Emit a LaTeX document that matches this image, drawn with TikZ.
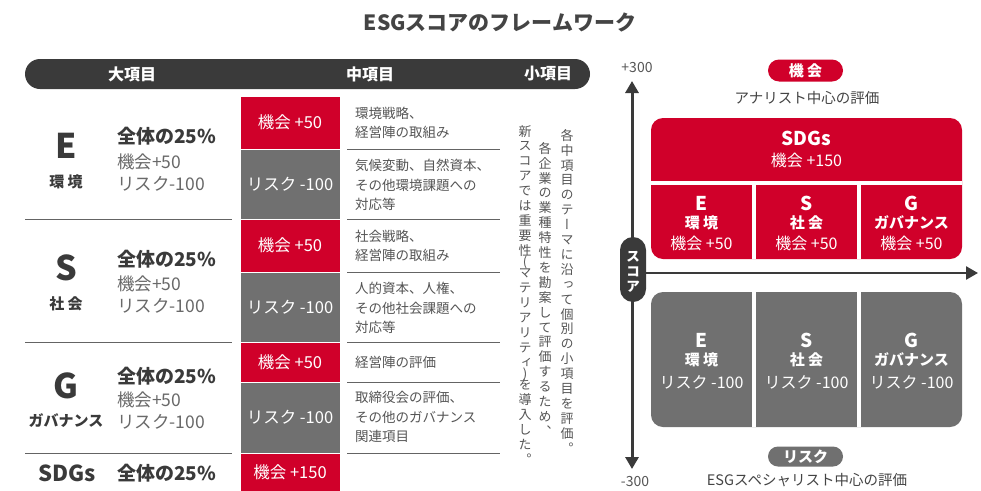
\documentclass[tikz,border=0pt]{standalone}
\usepackage{fontspec}
\usepackage{graphicx}
\setmainfont{Noto Sans CJK JP}
\newfontfamily\vertfont[RawFeature=+vert]{Noto Sans CJK JP}
\usetikzlibrary{arrows.meta}
\definecolor{esgred}{RGB}{208,0,42}
\definecolor{esggray}{RGB}{112,112,112}
\definecolor{esgdark}{RGB}{58,58,58}
\definecolor{txtdark}{RGB}{68,68,68}
\definecolor{txtgray}{RGB}{85,85,85}
\definecolor{txtlight}{RGB}{105,105,105}
\definecolor{rulegray}{RGB}{100,100,100}
\tikzset{
  title/.style={font=\bfseries\fontsize{21}{25}\selectfont, text=txtdark, inner sep=0},
  hdr/.style={font=\bfseries\fontsize{16}{19}\selectfont, text=white, inner sep=0},
  bigletter/.style={font=\bfseries\fontsize{34}{40}\selectfont, text=esgdark, inner sep=0},
  sdgletter/.style={font=\bfseries\fontsize{22}{26}\selectfont, text=esgdark, inner sep=0},
  catname/.style={font=\bfseries\fontsize{15}{18}\selectfont, text=esgdark, inner sep=0},
  share/.style={font=\bfseries\fontsize{19}{22}\selectfont, text=esgdark, anchor=west, inner sep=0},
  subval/.style={font=\fontsize{17.5}{20}\selectfont, text=txtlight, anchor=west, inner sep=0},
  cellbox/.style={draw=white, line width=1pt, text=white, minimum width=100pt, inner sep=0,
    font=\fontsize{16.5}{19}\selectfont},
  redcell/.style={cellbox, fill=esgred},
  graycell/.style={cellbox, fill=esggray},
  midtxt/.style={font=\fontsize{13.5}{19.5}\selectfont, text=txtgray, anchor=west, align=left, inner sep=0},
  rowrule/.style={draw=rulegray, line width=0.8pt},
  vtext/.style={font=\vertfont\fontsize{13}{14.9}\selectfont, text=txtgray, align=center, inner sep=0, anchor=north},
  chartbig/.style={font=\bfseries\fontsize{19}{22}\selectfont, text=white, inner sep=0},
  chartname/.style={font=\bfseries\fontsize{15}{18}\selectfont, text=white, inner sep=0},
  chartval/.style={font=\fontsize{16}{19}\selectfont, text=white, inner sep=0},
  pill/.style={rounded corners=11pt, minimum width=75pt, minimum height=22pt, text=white,
    font=\bfseries\fontsize{15}{18}\selectfont, inner sep=0},
  axisline/.style={draw=esgdark, line width=3pt, -{Triangle[width=13pt,length=12pt]}},
  note/.style={font=\fontsize{14.5}{17}\selectfont, text=txtdark, inner sep=0},
  axlabel/.style={font=\fontsize{14}{17}\selectfont, text=txtgray, inner sep=0},
}
\begin{document}
\begin{tikzpicture}[x=1pt,y=-1pt]
\useasboundingbox (0,0) rectangle (981,490);
\fill[white] (0,0) rectangle (981,490);

% title
\node[title] (ttl) at (500,22) {ESGスコアのフレームワーク};

% header bar
\fill[esgdark, rounded corners=15pt] (25,59) rectangle (590,89);
\node[hdr] (h1) at (132,74) {大項目};
\node[hdr] (h2) at (370,74) {中項目};
\node[hdr] (h3) at (548,74) {小項目};

% cell column
\node[redcell, minimum height=53pt] (c1) at (290,122.5) {機会 +50};
\node[graycell, minimum height=70pt] (c2) at (290,184) {リスク -100};
\node[redcell, minimum height=53pt] (c3) at (290,245.5) {機会 +50};
\node[graycell, minimum height=70pt] (c4) at (290,307) {リスク -100};
\node[redcell, minimum height=40pt] (c5) at (290,362) {機会 +50};
\node[graycell, minimum height=71pt] (c6) at (290,417.5) {リスク -100};
\node[redcell, minimum height=50pt, anchor=north] (c7) at (290,453) {};
\node[font=\fontsize{16.5}{19}\selectfont, text=white, inner sep=0] (c7t) at (290,472) {機会 +150};

% rules
\foreach \yy in {219,342,453} \draw[rowrule] (25,\yy) -- (232,\yy);
\foreach \yy in {149,219,272,342,382,453} \draw[rowrule] (347,\yy) -- (500,\yy);

% left column
\node[bigletter] (le) at (66,146) {E};
\node[catname] (lek) at (66,182) {環 境};
\node[share] (le1) at (117,136) {全体の25\%};
\node[subval] (le2) at (117,162) {機会+50};
\node[subval] (le3) at (117,184) {リスク-100};

\node[bigletter] (ls) at (66,268) {S};
\node[catname] (lsk) at (66,304) {社 会};
\node[share] (ls1) at (117,259) {全体の25\%};
\node[subval] (ls2) at (117,284) {機会+50};
\node[subval] (ls3) at (117,306) {リスク-100};

\node[bigletter] (lg) at (66,386) {G};
\node[catname] (lgk) at (66,421) {ガバナンス};
\node[share] (lg1) at (117,376) {全体の25\%};
\node[subval] (lg2) at (117,400) {機会+50};
\node[subval] (lg3) at (117,422) {リスク-100};

\node[sdgletter] (lsd) at (67,473) {SDGs};
\node[share] (lsd1) at (117,473) {全体の25\%};

% middle texts
\node[midtxt] (m1) at (355,123) {環境戦略、\\経営陣の取組み};
\node[midtxt] (m2) at (355,185) {気候変動、自然資本、\\その他環境課題への\\対応等};
\node[midtxt] (m3) at (355,246) {社会戦略、\\経営陣の取組み};
\node[midtxt] (m4) at (355,308) {人的資本、人権、\\その他社会課題への\\対応等};
\node[midtxt] (m5) at (355,362) {経営陣の評価};
\node[midtxt] (m6) at (355,417) {取締役会の評価、\\その他のガバナンス\\関連項目};

% vertical text
\node[vtext] (v1) at (567,129) {各\\中\\項\\目\\の\\テ\\ー\\マ\\に\\沿\\っ\\て\\個\\別\\の\\小\\項\\目\\を\\評\\価\\。};
\node[vtext] (v2) at (545,142) {各\\企\\業\\の\\業\\種\\特\\性\\を\\勘\\案\\し\\て\\評\\価\\す\\る\\た\\め\\、};
\node[vtext] (v3) at (525,125) {新\\ス\\コ\\ア\\で\\は\\重\\要\\性\\[-3.6pt](\\[-3.6pt]マ\\テ\\リ\\ア\\リ\\テ\\ィ\\[-3.6pt])\\[-3.6pt]を\\導\\入\\し\\た\\。};

% chart: axes
\coordinate (ytop) at (632,81);
\coordinate (ybot) at (632,469);
\coordinate (yin1) at (632,300);
\coordinate (yin2) at (632,240);
\coordinate (xstart) at (646,273);
\coordinate (xend) at (978,273);
\draw[axisline] (yin1) -- (ytop);
\draw[axisline] (yin2) -- (ybot);
\draw[axisline, line width=2.5pt] (xstart) -- (xend);
\node[axlabel] (p300) at (637,68) {+300};
\node[axlabel] (m300) at (635,481) {-300};

% score badge
\fill[esgdark, rounded corners=13pt] (620,237) rectangle (646,302);
\node[font=\bfseries\fontsize{13.5}{15}\selectfont, text=white, align=center, inner sep=0] (badge) at (633,272) {ス\\コ\\ア};

% pills and notes
\node[pill, fill=esgred] (popp) at (805.5,70.5) {機 会};
\node[note] (nopp) at (807,98) {アナリスト中心の評価};
\node[pill, fill=esggray, minimum height=20pt, rounded corners=10pt] (prisk) at (805.5,456.5) {リスク};
\node[note] (nrisk) at (807,480.5) {ESGスペシャリスト中心の評価};

% red group
\fill[esgred, rounded corners=12pt] (651,118) rectangle (962,259);
\fill[white] (651,181) rectangle (962,185);
\fill[white] (752,185) rectangle (756,259);
\fill[white] (857,185) rectangle (861,259);
% gray group
\fill[esggray, rounded corners=12pt] (651,292) rectangle (962,427);
\fill[white] (752,292) rectangle (756,427);
\fill[white] (857,292) rectangle (861,427);

\node[chartbig] (rsdg) at (806.5,138) {SDGs};
\node[chartval] (rsdgv) at (806.5,160) {機会 +150};

\node[chartbig] (re) at (701.5,203) {E};
\node[chartname] (rek) at (701.5,223) {環 境};
\node[chartval] (rev) at (701.5,243) {機会 +50};
\node[chartbig] (rs) at (806.5,203) {S};
\node[chartname] (rsk) at (806.5,223) {社 会};
\node[chartval] (rsv) at (806.5,243) {機会 +50};
\node[chartbig] (rg) at (911.5,203) {G};
\node[chartname] (rgk) at (911.5,223) {ガバナンス};
\node[chartval] (rgv) at (911.5,243) {機会 +50};

\node[chartbig] (ge) at (701.5,340) {E};
\node[chartname] (gek) at (701.5,360) {環 境};
\node[chartval] (gev) at (701.5,382) {リスク -100};
\node[chartbig] (gs) at (806.5,340) {S};
\node[chartname] (gsk) at (806.5,360) {社 会};
\node[chartval] (gsv) at (806.5,382) {リスク -100};
\node[chartbig] (gg) at (911.5,340) {G};
\node[chartname] (ggk) at (911.5,360) {ガバナンス};
\node[chartval] (ggv) at (911.5,382) {リスク -100};
\end{tikzpicture}
\end{document}
